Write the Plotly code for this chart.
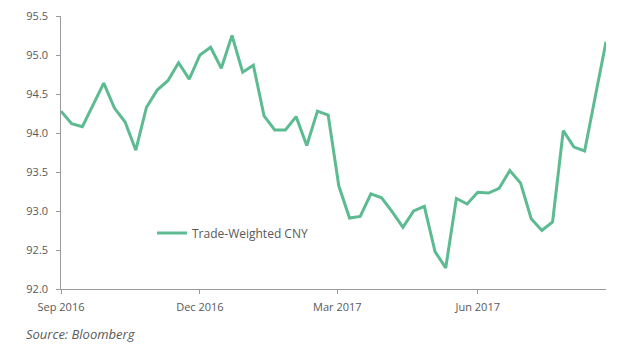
import plotly.graph_objects as go
import pandas as pd

start_date = "2016-09-01"
n_weeks = 52
values = [
    94.28, 94.12, 94.08, 94.36, 94.64, 94.32, 94.14, 93.78, 94.33, 94.55,
    94.67, 94.90, 94.69, 95.00, 95.10, 94.83, 95.25, 94.78, 94.87, 94.22,
    94.04, 94.04, 94.21, 93.84, 94.28, 94.23, 93.32, 92.91, 92.93, 93.22,
    93.17, 92.99, 92.79, 93.00, 93.06, 92.48, 92.27, 93.16, 93.09, 93.24,
    93.23, 93.29, 93.52, 93.36, 92.90, 92.75, 92.86, 94.03, 93.82, 93.77,
    94.47, 95.17,
]
dates = pd.date_range(start_date, periods=n_weeks, freq="7D")
series_name = "Trade-Weighted CNY"
y_ticks = [92.0, 92.5, 93.0, 93.5, 94.0, 94.5, 95.0, 95.5]

grey = "#595959"
axis_grey = "#9a9a9a"
font_family = "Open Sans, Noto Sans, sans-serif"

fig = go.Figure()
fig.add_trace(go.Scatter(
    x=dates, y=values, mode="lines", name=series_name,
    line=dict(color="#5DBB91", width=3),
))

# page body has an 8px margin, so the figure is 616x350 and offset accordingly
fig.update_layout(
    width=616, height=350,
    margin=dict(l=53, r=18, t=8, b=69),
    paper_bgcolor="white", plot_bgcolor="white",
    font=dict(family=font_family, size=11, color=grey),
    showlegend=True,
    legend=dict(
        x=0.167, y=0.205, xanchor="left", yanchor="middle",
        bgcolor="rgba(0,0,0,0)", font=dict(size=12, color=grey),
    ),
    xaxis=dict(
        type="date", automargin=False,
        range=[dates[0], dates[-1]],
        tick0="2016-09-01", dtick="M3", tickformat="%b %Y",
        showgrid=False, zeroline=False,
        showline=True, linecolor=axis_grey, linewidth=1,
        ticks="outside", ticklen=4, tickcolor=axis_grey,
        ticklabelstandoff=4,
        tickfont=dict(size=11, color=grey),
    ),
    yaxis=dict(
        automargin=False,
        range=[92.0, 95.5],
        tickvals=y_ticks,
        ticktext=[f"{v:.1f}\u00a0\u00a0" for v in y_ticks],
        showgrid=False, zeroline=False,
        showline=True, linecolor=axis_grey, linewidth=1,
        ticks="outside", ticklen=4, tickcolor=axis_grey,
        ticklabeloverflow="allow",
        tickfont=dict(size=11, color=grey),
    ),
    annotations=[dict(
        text="<i>Source: Bloomberg</i>", xref="paper", yref="paper",
        x=-0.068, y=-0.166, xanchor="left", yanchor="middle", showarrow=False,
        font=dict(size=13, color=grey, family=font_family),
    )],
)

fig.write_html("out.html")
